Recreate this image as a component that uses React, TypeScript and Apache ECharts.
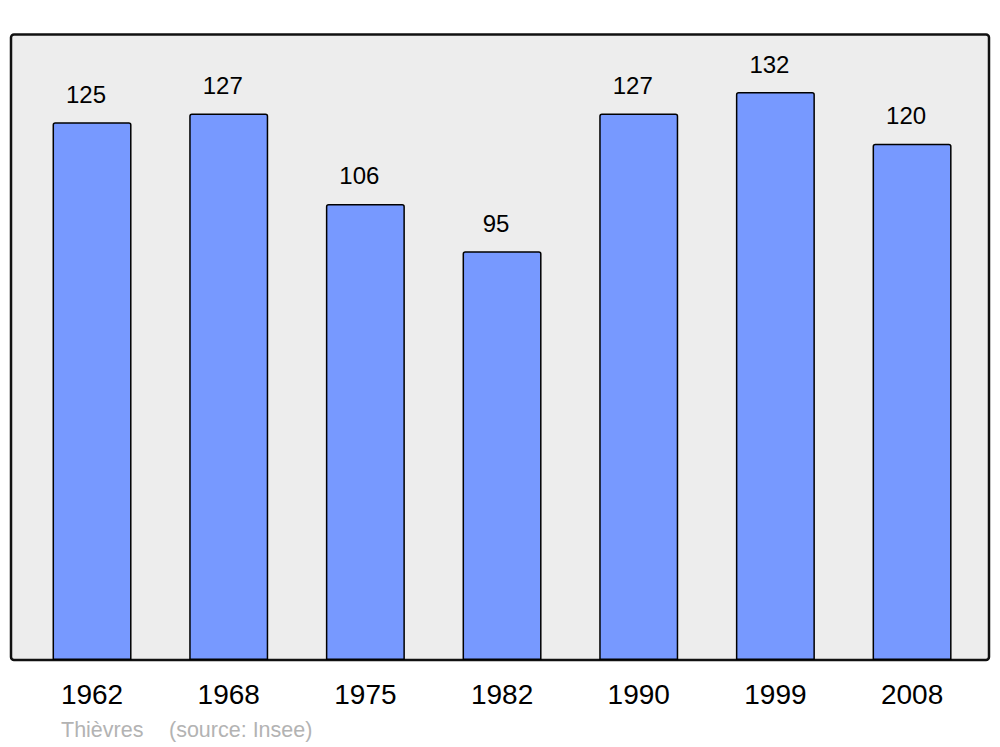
import React, { useEffect, useRef } from "react";
import * as echarts from "echarts";

const years = ["1962", "1968", "1975", "1982", "1990", "1999", "2008"];
const population = [125, 127, 106, 95, 127, 132, 120];
const townName = "Thièvres";
const sourceText = "(source: Insee)";

export default function App() {
  const ref = useRef<HTMLDivElement>(null);
  useEffect(() => {
    if (!ref.current) return;
    const chart = echarts.init(ref.current, null, { renderer: "svg" });
    chart.setOption({
      animation: false,
      backgroundColor: "#ffffff",
      textStyle: { fontFamily: "Liberation Sans" },
      grid: { left: 23.7, right: 19.6, top: 34, bottom: 87, containLabel: false },
      xAxis: {
        type: "category",
        data: years,
        axisLine: { show: false },
        axisTick: { show: false },
        axisLabel: { color: "#000", fontSize: 28, margin: 20, fontFamily: "Liberation Sans" },
      },
      yAxis: {
        type: "value",
        min: 0,
        max: 145.5,
        show: false,
        splitLine: { show: false },
      },
      graphic: [
        {
          type: "rect",
          z: -10,
          shape: { x: 11, y: 34.5, width: 978, height: 625.5, r: 3 },
          style: { fill: "#ededed", stroke: "#111", lineWidth: 2.5 },
        },
        {
          type: "text",
          left: 61,
          top: 719,
          style: { text: townName, fill: "#b3b3b3", fontSize: 21.5, fontFamily: "Liberation Sans" },
        },
        {
          type: "text",
          left: 169,
          top: 719,
          style: { text: sourceText, fill: "#b3b3b3", fontSize: 21.5, fontFamily: "Liberation Sans" },
        },
      ],
      series: [
        {
          type: "bar",
          data: population,
          barWidth: 79,
          itemStyle: {
            color: "#7799ff",
            borderColor: "#000",
            borderWidth: 1.5,
            borderRadius: [2, 2, 0, 0],
          },
          label: {
            show: true,
            position: "top",
            distance: 16,
            offset: [-6, 0],
            color: "#000",
            fontSize: 24,
            fontFamily: "Liberation Sans",
          },
        },
      ],
    });
    return () => chart.dispose();
  }, []);
  return <div ref={ref} style={{ width: 1000, height: 747, position: "absolute", left: 0, top: 0 }} />;
}
